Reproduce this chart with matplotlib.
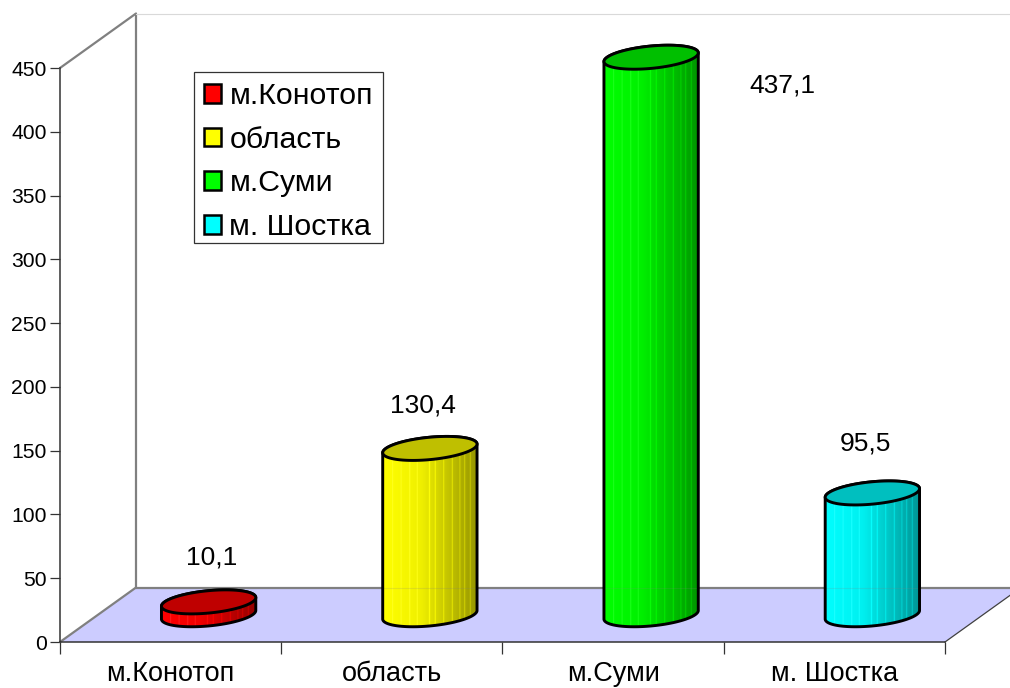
import numpy as np
import matplotlib
matplotlib.use("Agg")
import matplotlib.pyplot as plt
from matplotlib.patches import Polygon, Patch, Rectangle

plt.rcParams['font.family'] = ['Liberation Sans', 'DejaVu Sans']

categories = ["м.Конотоп", "область", "м.Суми", "м. Шостка"]
values = [10.1, 130.4, 437.1, 95.5]
value_labels = ["10,1", "130,4", "437,1", "95,5"]
colors = [(1, 0, 0), (1, 1, 0), (0, 1, 0), (0, 1, 1)]
y_ticks = list(range(0, 451, 50))
label_anchor_px = [(212, 557), (423, 406), (782, 85), (865, 443)]

W, H = 1010, 688
L, R, T, B = 60, 945, 68, 642
fig = plt.figure(figsize=(W / 100, H / 100), dpi=100, facecolor="white")
ax = fig.add_axes([L / W, (H - B) / H, (R - L) / W, (B - T) / H])
ax.set_xlim(0, 4)
ax.set_ylim(0, 450)
ax.patch.set_alpha(0)

px_x = 4 / (R - L)
px_y = 450 / (B - T)
DX, DY = 76 * px_x, 54.5 * px_y     # 3D depth offset in data units

# floor and walls
ax.add_patch(Polygon([(0, 0), (4, 0), (4 + DX, DY), (DX, DY)], closed=True,
                     fc="#CCCCFF", ec="none", clip_on=False, zorder=1))
wall = dict(color="#808080", lw=1.6, clip_on=False, zorder=2, solid_capstyle="round")
ax.plot([0, DX], [0, DY], **wall)
ax.plot([0, DX], [450, 450 + DY], **wall)
ax.plot([DX, DX], [DY, 450 + DY], **wall)
ax.plot([DX, 4 + DX], [DY, DY], **wall)
ax.plot([DX, 4 + DX], [450 + DY, 450 + DY], color="#D9D9D9", lw=0.8, clip_on=False, zorder=2)
ax.plot([4, 4 + DX], [0, DY], color="#404040", lw=0.9, clip_on=False, zorder=2)

# cylinders
A_X = 44 * px_x
B_X = 17 * px_x
C_Y = 12 * px_y
t = np.linspace(0, 2 * np.pi, 361)[:-1]
stripes = [.10, .19, .28, .36, .49, .55, .64, .73, .81, .86, .92]
grad_x = np.linspace(0, 1, 470)
shade = np.interp(grad_x, [0, .40, 1], [1.0, 0.94, 0.58])
for s in stripes:
    shade[np.abs(grad_x - s) < 0.006] += 0.14


def ellipse(cx, cy):
    return cx + A_X * np.cos(t) + B_X * np.sin(t), cy + C_Y * np.sin(t)


for i, (v, c) in enumerate(zip(values, colors)):
    cx = i + 0.5 + DX / 2
    cy = DY / 2
    xb, yb = ellipse(cx, cy)
    xt, yt = ellipse(cx, cy + v)
    w = np.hypot(A_X, B_X)
    # body outline: upper arc of the top ellipse + lower arc of the base ellipse
    k_r, k_l = int(np.argmax(xb)), int(np.argmin(xb))
    seq = np.arange(k_r, k_r + len(t)) % len(t)
    n = int((k_l - k_r) % len(t))
    upper, lower = seq[:n + 1], seq[n:]
    body = np.column_stack([np.concatenate([xt[upper], xb[lower]]),
                            np.concatenate([yt[upper], yb[lower]])])
    rgb = np.clip(np.outer(shade, c) + np.outer(np.clip(shade - 1, 0, 1), 1 - np.array(c)), 0, 1)[None, :, :]
    im = ax.imshow(rgb, extent=(cx - w, cx + w, 0, 450 + DY), aspect="auto", zorder=4)
    clip = Polygon(body, closed=True, transform=ax.transData, fc="none", ec="none")
    im.set_clip_box(fig.bbox)
    im.set_clip_path(clip)
    ax.add_patch(Polygon(body, closed=True, fc="none", ec="black", lw=2.1,
                         clip_on=False, zorder=6, joinstyle="round"))
    # faint floor line seen through the cylinder
    ax.plot([cx - w, cx + w], [DY, DY], color="#808080", lw=0.8, alpha=0.18,
            zorder=5, clip_on=False)
    ax.fill(xt, yt, fc=tuple(0.75 * np.array(c)), ec="black", lw=2.1, zorder=7, clip_on=False)

ax.set_xlim(0, 4)
ax.set_ylim(0, 450)

# axes
for sp in ("top", "right"):
    ax.spines[sp].set_visible(False)
for sp in ("left", "bottom"):
    ax.spines[sp].set_color("#333333")
    ax.spines[sp].set_linewidth(1.1)
    ax.spines[sp].set_zorder(3)
ax.set_yticks(y_ticks)
ax.tick_params(axis="y", length=7.5, width=0.9, color="#333333", labelsize=15.2, pad=2, labelcolor="black")
ax.set_xticks(range(5))
ax.set_xticklabels([])
ax.tick_params(axis="x", which="major", length=8.5, width=0.9, color="#333333")
ax.set_xticks(np.arange(4) + 0.5, minor=True)
ax.set_xticklabels(categories, minor=True, fontsize=19.5, color="black")
ax.tick_params(axis="x", which="minor", length=0, pad=14)

# value labels (anchored from pixel estimates)
for (px, py), txt in zip(label_anchor_px, value_labels):
    ax.text((px - L) * px_x, (B - py) * px_y, txt, fontsize=19, ha="center", va="center",
            color="black", clip_on=False, zorder=8)

# legend: frame drawn separately so that its height matches independently of the row spacing
ax.add_patch(Rectangle(((194 - L) * px_x, (B - 243) * px_y), 189 * px_x, 171 * px_y,
                       fc="white", ec="#333333", lw=0.9, clip_on=False, zorder=8.5))
handles = [Patch(fc=c, ec="black", lw=1.8, label=n) for c, n in zip(colors, categories)]
leg = ax.legend(handles=handles, loc="upper left",
                bbox_to_anchor=((194 - L) * px_x, (B - 72) * px_y),
                bbox_transform=ax.transData, fontsize=21.8, frameon=False,
                handlelength=0.57, handleheight=0.57,
                handletextpad=0.27, labelspacing=0.52, borderpad=0.33, borderaxespad=0)
leg.set_zorder(9)

fig.savefig("out.png", dpi=100)
